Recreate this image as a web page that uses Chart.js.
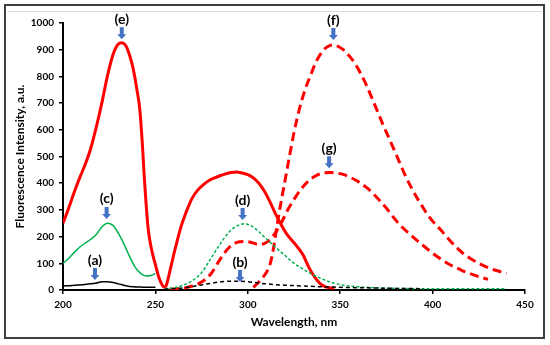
<!DOCTYPE html>
<html>
<head>
<meta charset="utf-8">
<script src="https://cdn.jsdelivr.net/npm/chart.js@4.4.1/dist/chart.umd.min.js"></script>
<style>
  html, body { margin: 0; padding: 0; background: #fff; }
  #wrap { width: 550px; height: 345px; position: relative; }
</style>
</head>
<body>
<div id="wrap"><canvas id="c" width="550" height="345"></canvas></div>
<script>
// ---- Data ----
// (a) black solid
const waveA = [200, 205, 210, 215, 218, 221, 224, 227, 230, 234, 238, 242, 246, 250];
const intA  = [15, 17, 20, 23, 26, 31, 31, 28, 23, 16, 12, 11, 10, 10];
// (b) black dashed
const waveB = [255, 260, 265, 270, 275, 280, 285, 290, 295, 300, 305, 310, 320, 330, 340, 350, 365, 380, 395];
const intB  = [3, 5, 8, 13, 19, 25, 30, 33, 33, 31, 27, 23, 18, 15, 12, 10, 8, 6, 5];
// (c) green solid
const waveC = [200, 203, 206, 209, 212, 215, 218, 221, 224, 227, 230, 233, 236, 239, 242, 245, 248, 250];
const intC  = [100, 118, 140, 160, 176, 190, 208, 236, 250, 242, 212, 172, 126, 86, 62, 52, 55, 62];
// (d) green dashed
const waveD = [255, 260, 265, 270, 275, 280, 285, 290, 295, 298, 302, 306, 310, 315, 320, 325, 330, 335, 340, 345, 350, 360, 370, 380, 390, 400, 420, 440];
const intD  = [5, 8, 18, 35, 65, 118, 172, 218, 243, 248, 240, 218, 192, 160, 130, 100, 78, 58, 42, 29, 20, 12, 8, 6, 5, 5, 5, 5];
// (e) red solid
const waveE = [200, 203, 206, 209, 212, 215, 218, 221, 224, 227, 229.5, 231.5, 234, 236, 238, 240, 241.5, 243, 244, 245, 246, 247, 248, 249, 250, 252, 254, 255, 256, 258, 260, 262, 264, 266, 268, 270, 273, 276, 279, 282, 285, 288, 291, 294, 297, 300, 303, 306, 309, 312, 315, 318, 321, 324, 327, 330, 333, 336, 339, 342, 345, 347];
const intE  = [250, 305, 365, 420, 470, 530, 610, 700, 800, 880, 918, 926, 915, 880, 828, 750, 680, 540, 420, 320, 235, 185, 150, 120, 95, 45, 15, 10, 20, 75, 135, 190, 240, 280, 315, 345, 375, 395, 410, 420, 428, 435, 440, 442, 438, 432, 420, 400, 370, 330, 285, 245, 210, 185, 160, 130, 85, 50, 25, 12, 8, 7];
// (f) red dashed, upper
const waveF = [303, 306, 309, 312, 314, 316, 318, 320, 322, 325, 328, 331, 334, 337, 340, 343, 346, 349, 352, 355, 358, 361, 364, 367, 370, 373, 376, 379, 382, 385, 388, 391, 394, 397, 400, 404, 408, 412, 416, 420, 425, 430, 435, 440];
const intF  = [10, 30, 55, 95, 160, 250, 330, 405, 480, 590, 680, 750, 805, 855, 890, 911, 918, 912, 898, 876, 848, 812, 770, 722, 672, 622, 575, 528, 480, 432, 390, 352, 318, 285, 258, 228, 196, 166, 140, 120, 100, 84, 72, 62];
// (g) red dashed, lower
const waveG = [258, 262, 266, 270, 275, 280, 285, 290, 294, 298, 302, 306, 310, 314, 318, 322, 326, 330, 334, 338, 342, 345, 348, 352, 356, 360, 364, 368, 372, 376, 380, 384, 388, 392, 396, 400, 404, 408, 412, 416, 420, 425, 430];
const intG  = [3, 5, 8, 15, 30, 60, 115, 160, 178, 182, 178, 170, 178, 205, 250, 305, 350, 388, 415, 432, 439, 440, 438, 432, 420, 405, 385, 360, 330, 298, 262, 232, 207, 183, 160, 138, 118, 100, 86, 73, 62, 50, 40];

// Axis ticks
const xTicks = [200, 250, 300, 350, 400, 450];
const yTicks = [0, 100, 200, 300, 400, 500, 600, 700, 800, 900, 1000];

// Annotation marks (labels with arrows)
const markNames = ['(a)', '(b)', '(c)', '(d)', '(e)', '(f)', '(g)'];
const markWave  = [217.3, 295.8, 223.6, 297.2, 231.8, 346.3, 344];
const markTip   = [37, 30, 266, 262, 939, 936, 456];

const xLabel = 'Wavelength, nm';
const yLabel = 'Fluorescence Intensity, a.u.';

// ---- Build ----
const pts = (xs, ys) => xs.map((x, i) => ({ x: x, y: ys[i] }));
const RED = '#FF0000', GREEN = '#00B050', BLACK = '#000000', BLUE = '#4472C4';

Chart.defaults.font.family = 'Lato';
Chart.defaults.color = '#000';

const framePlugin = {
  id: 'frame',
  beforeDraw(chart) {
    const ctx = chart.ctx;
    ctx.save();
    ctx.fillStyle = '#fff';
    ctx.fillRect(0, 0, chart.width, chart.height);
    ctx.strokeStyle = '#d9d9d9';
    ctx.lineWidth = 1;
    ctx.beginPath(); ctx.moveTo(7, 11.5); ctx.lineTo(542, 11.5); ctx.stroke();
    ctx.strokeStyle = '#404040';
    ctx.lineWidth = 2;
    ctx.strokeRect(5, 5, 539, 333);
    ctx.restore();
  }
};

const marksPlugin = {
  id: 'marks',
  afterDatasetsDraw(chart) {
    const ctx = chart.ctx;
    const xs = chart.scales.x, ys = chart.scales.y;
    ctx.save();
    for (let i = 0; i < markNames.length; i++) {
      const px = xs.getPixelForValue(markWave[i]);
      const tip = ys.getPixelForValue(markTip[i]);
      // arrow
      ctx.fillStyle = BLUE;
      ctx.beginPath();
      ctx.moveTo(px - 2, tip - 12);
      ctx.lineTo(px + 2, tip - 12);
      ctx.lineTo(px + 2, tip - 5);
      ctx.lineTo(px + 4.5, tip - 5);
      ctx.lineTo(px, tip);
      ctx.lineTo(px - 4.5, tip - 5);
      ctx.lineTo(px - 2, tip - 5);
      ctx.closePath();
      ctx.fill();
      // label
      ctx.fillStyle = '#000';
      ctx.font = 'bold 14px Lato';
      ctx.textAlign = 'center';
      ctx.textBaseline = 'middle';
      ctx.fillText(markNames[i], px, tip - 20);
    }
    ctx.restore();
  }
};

const lineDs = (label, data, color, width, dash) => ({
  label: label,
  data: data,
  borderColor: color,
  backgroundColor: color,
  borderWidth: width,
  borderDash: dash,
  pointRadius: 0,
  fill: false,
  cubicInterpolationMode: 'monotone'
});

new Chart(document.getElementById('c'), {
  type: 'line',
  data: {
    datasets: [
      lineDs('(a)', pts(waveA, intA), BLACK, 1.5, []),
      lineDs('(b)', pts(waveB, intB), BLACK, 1.5, [4, 3]),
      lineDs('(c)', pts(waveC, intC), GREEN, 1.5, []),
      lineDs('(d)', pts(waveD, intD), GREEN, 1.5, [3, 2]),
      lineDs('(e)', pts(waveE, intE), RED, 3, []),
      lineDs('(f)', pts(waveF, intF), RED, 3, [9, 5]),
      lineDs('(g)', pts(waveG, intG), RED, 3, [9, 5])
    ]
  },
  options: {
    responsive: false,
    animation: false,
    layout: { padding: { left: 0, top: 23, right: 25, bottom: 0 } },
    plugins: { legend: { display: false }, tooltip: { enabled: false } },
    scales: {
      x: {
        type: 'linear',
        min: xTicks[0], max: xTicks[xTicks.length - 1],
        afterBuildTicks: (s) => { s.ticks = xTicks.map(v => ({ value: v })); },
        afterFit: (s) => { s.height = 55; },
        ticks: { font: { size: 10, weight: 'bold' }, color: '#000', padding: 5, maxRotation: 0, callback: (v) => String(v) },
        grid: { drawOnChartArea: false, drawTicks: true, tickLength: 4, color: '#000', lineWidth: 1.5 },
        border: { display: true, color: '#000', width: 2 },
        title: { display: true, text: xLabel, font: { size: 12, weight: 'bold' }, color: '#000', padding: { top: 0, bottom: 16 } }
      },
      y: {
        min: yTicks[0], max: yTicks[yTicks.length - 1],
        afterBuildTicks: (s) => { s.ticks = yTicks.map(v => ({ value: v })); },
        afterFit: (s) => { s.width = 63; },
        ticks: { font: { size: 10, weight: 'bold' }, color: '#000', padding: 5, callback: (v) => String(v) },
        grid: { drawOnChartArea: false, drawTicks: true, tickLength: 4, color: '#000', lineWidth: 1.5 },
        border: { display: true, color: '#000', width: 2 },
        title: { display: true, text: yLabel, font: { size: 12, weight: 'bold' }, color: '#000', padding: { top: 13, bottom: 0 } }
      }
    }
  },
  plugins: [framePlugin, marksPlugin]
});
</script>
</body>
</html>
